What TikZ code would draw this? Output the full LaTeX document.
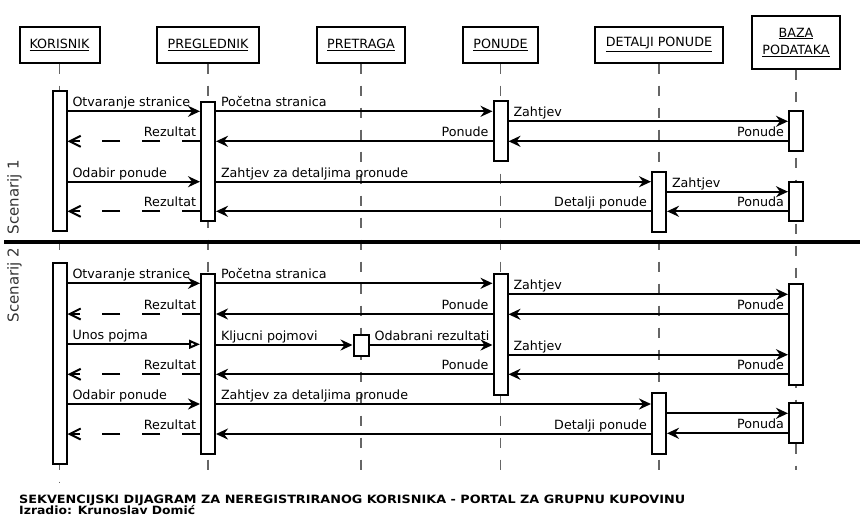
\documentclass[tikz,border=0pt]{standalone}
\usepackage{fontspec}
\usepackage{graphicx}
\setmainfont{DejaVu Sans}
\usetikzlibrary{arrows.meta}

\begin{document}
\begin{tikzpicture}[x=1pt, y=-1pt, font=\fontsize{12.7}{17}\selectfont,
  head/.style={rectangle, draw, line width=2pt, minimum height=36pt, inner sep=0pt},
  act/.style={rectangle, draw, fill=white, line width=2pt, minimum width=14pt, inner sep=0pt},
  life/.style={draw=black!60, line width=1.2pt, dash pattern=on 10pt off 12pt},
  msg/.style={line width=2pt, -{Stealth[length=12pt,width=11pt,inset=4pt]}},
  ret/.style={line width=2pt, dash pattern=on 18pt off 22pt, -{Straight Barb[length=11pt,width=11pt]}},
  fwd/.style={pos=0, anchor=base west, inner sep=0pt, xshift=4pt, yshift=4.5pt},
  bck/.style={pos=0, anchor=base east, inner sep=0pt, xshift=-3pt, yshift=4.5pt}]
\useasboundingbox (0,0) rectangle (867,531);

\node (korisnik) [head, minimum width=80pt] at (59.5,44.5) {\underline{KORISNIK}};
\node (preglednik) [head, minimum width=102pt] at (208,44.5) {\underline{PREGLEDNIK}};
\node (pretraga) [head, minimum width=88.6pt] at (361,44.5) {\underline{PRETRAGA}};
\node (ponude) [head, minimum width=75pt] at (500.5,44.5) {\underline{PONUDE}};
\node (detalji) [head, minimum width=128.4pt] at (659,44.5) {\underline{DETALJI PONUDE}};
\node (baza) [head, minimum width=88.3pt, minimum height=53pt, align=center] at (796,42.2) {\underline{BAZA}\\\underline{PODATAKA}};

\draw [life] (korisnik) -- (korisnik |- 0,482);
\draw [life] (preglednik) -- (preglednik |- 0,477);
\draw [life] (pretraga) -- (pretraga |- 0,477);
\draw [life] (ponude) -- (ponude |- 0,477);
\draw [life] (detalji) -- (detalji |- 0,477);
\draw [life] (baza) -- (baza |- 0,470);

\node (kor1) [act, minimum height=139.7pt] at (59.5,161.2) {};
\node (pre1) [act, minimum height=119.3pt] at (208,161.3) {};
\node (pon1) [act, minimum height=60pt] at (500.5,131) {};
\node (baz1) [act, minimum height=40pt] at (796,131) {};
\node (det1) [act, minimum height=60pt] at (659,202) {};
\node (baz2) [act, minimum height=39.3pt] at (796,201.3) {};

\node (kor2) [act, minimum height=201pt] at (59.5,363.8) {};
\node (pre2) [act, minimum height=180pt] at (208,364.3) {};
\node (tra2) [act, minimum width=15pt, minimum height=21pt] at (361,345.2) {};
\node (pon2) [act, minimum height=120.7pt] at (500.5,334.7) {};
\node (baz3) [act, minimum height=100.7pt] at (796,334.7) {};
\node (det2) [act, minimum height=61pt] at (659,423.8) {};
\node (baz4) [act, minimum height=40.6pt] at (796,423) {};

\draw [msg] (kor1.east |- 0,111.3) -- (pre1.west |- 0,111.3) node [fwd] {Otvaranje stranice};
\draw [ret] (pre1.west |- 0,141.3) -- (kor1.east |- 0,141.3) node [bck] {Rezultat};
\draw [msg] (kor1.east |- 0,181.7) -- (pre1.west |- 0,181.7) node [fwd] {Odabir ponude};
\draw [ret] (pre1.west |- 0,211.3) -- (kor1.east |- 0,211.3) node [bck] {Rezultat};
\draw [msg] (pre1.east |- 0,111.3) -- (pon1.west |- 0,111.3) node [fwd] {Početna stranica};
\draw [msg] (pon1.west |- 0,141.3) -- (pre1.east |- 0,141.3) node [bck] {Ponude};
\draw [msg] (pon1.east |- 0,121.3) -- (baz1.west |- 0,121.3) node [fwd] {Zahtjev};
\draw [msg] (baz1.west |- 0,141.3) -- (pon1.east |- 0,141.3) node [bck] {Ponude};
\draw [msg] (pre1.east |- 0,181.7) -- (det1.west |- 0,181.7) node [fwd] {Zahtjev za detaljima pronude};
\draw [msg] (det1.west |- 0,211.3) -- (pre1.east |- 0,211.3) node [bck] {Detalji ponude};
\draw [msg] (det1.east |- 0,191.7) -- (baz2.west |- 0,191.7) node [fwd] {Zahtjev};
\draw [msg] (baz2.west |- 0,211.3) -- (det1.east |- 0,211.3) node [bck] {Ponuda};

\draw [line width=3.5pt] (4,242) -- (860,242);

\draw [msg] (kor2.east |- 0,283.3) -- (pre2.west |- 0,283.3) node [fwd] {Otvaranje stranice};
\draw [ret] (pre2.west |- 0,314) -- (kor2.east |- 0,314) node [bck] {Rezultat};
\draw [line width=2pt, -{Triangle[open,fill=white,length=11pt,width=9pt]}] (kor2.east |- 0,344.3) -- (pre2.west |- 0,344.3) node [fwd] {Unos pojma};
\draw [ret] (pre2.west |- 0,374.3) -- (kor2.east |- 0,374.3) node [bck] {Rezultat};
\draw [msg] (kor2.east |- 0,404) -- (pre2.west |- 0,404) node [fwd] {Odabir ponude};
\draw [ret] (pre2.west |- 0,434) -- (kor2.east |- 0,434) node [bck] {Rezultat};
\draw [msg] (pre2.east |- 0,283.3) -- (pon2.west |- 0,283.3) node [fwd] {Početna stranica};
\draw [msg] (pon2.west |- 0,314) -- (pre2.east |- 0,314) node [bck] {Ponude};
\draw [msg] (pre2.east |- 0,345) -- (tra2.west |- 0,345) node [fwd] {Kljucni pojmovi};
\draw [msg] (tra2.east |- 0,345) -- (pon2.west |- 0,345) node [fwd] {Odabrani rezultati};
\draw [msg] (pon2.west |- 0,374.3) -- (pre2.east |- 0,374.3) node [bck] {Ponude};
\draw [msg] (pre2.east |- 0,404) -- (det2.west |- 0,404) node [fwd] {Zahtjev za detaljima pronude};
\draw [msg] (det2.west |- 0,434) -- (pre2.east |- 0,434) node [bck] {Detalji ponude};
\draw [msg] (pon2.east |- 0,294.3) -- (baz3.west |- 0,294.3) node [fwd] {Zahtjev};
\draw [msg] (baz3.west |- 0,314.3) -- (pon2.east |- 0,314.3) node [bck] {Ponude};
\draw [msg] (pon2.east |- 0,354.7) -- (baz3.west |- 0,354.7) node [fwd] {Zahtjev};
\draw [msg] (baz3.west |- 0,374.3) -- (pon2.east |- 0,374.3) node [bck] {Ponude};
\draw [msg] (det2.east |- 0,413.3) -- (baz4.west |- 0,413.3);
\draw [msg] (baz4.west |- 0,433.3) -- (det2.east |- 0,433.3) node [bck] {Ponuda};

\node (scen1) [rotate=90, anchor=base, inner sep=0pt, text=black!80, font=\fontsize{15}{18}\selectfont] at (18.5,197) {Scenarij 1};
\node (scen2) [rotate=90, anchor=base, inner sep=0pt, text=black!80, font=\fontsize{15}{18}\selectfont] at (18.5,285) {Scenarij 2};

\node (naslov) [anchor=base west, inner sep=0pt, font=\fontsize{11.4}{13}\selectfont\bfseries] at (19,503.3) {\resizebox{666pt}{\height}{SEKVENCIJSKI DIJAGRAM ZA NEREGISTRIRANOG KORISNIKA - PORTAL ZA GRUPNU KUPOVINU}};
\node (autor) [anchor=base west, inner sep=0pt, font=\fontsize{11.4}{13}\selectfont\bfseries] at (19,514.3) {\resizebox{176pt}{\height}{Izradio: Krunoslav Domić}};
\end{tikzpicture}
\end{document}
